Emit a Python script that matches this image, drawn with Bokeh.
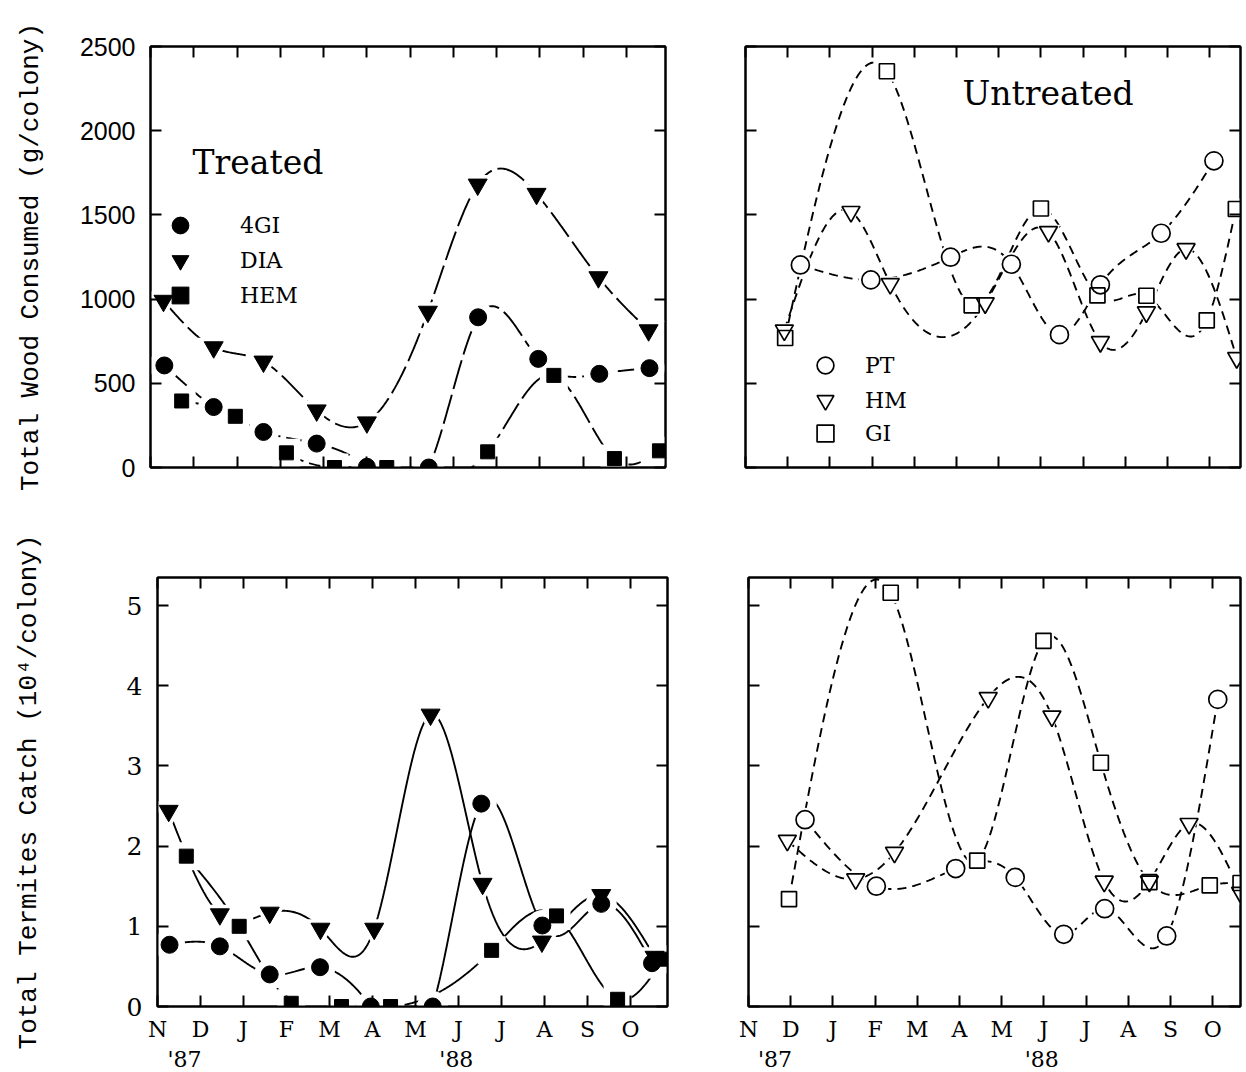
import numpy as np
from bokeh.plotting import figure
from bokeh.models import Range1d, FixedTicker, LinearAxis, Legend, LegendItem, Label
from bokeh.layouts import column, row
from bokeh.embed import file_html
from bokeh.resources import INLINE

# ---------------- data (x = months after 1 Nov 1987) ----------------
months = ["N", "D", "J", "F", "M", "A", "M", "J", "J", "A", "S", "O"]
month_pos = list(range(12))
years = ["'87", "'88"]
year_pos = [0.63, 6.95]
wood_ticks = [0, 500, 1000, 1500, 2000, 2500]
catch_ticks = [0, 1, 2, 3, 4, 5]

# Treated - total wood consumed (g/colony)
gi4_wood_x = [0.32, 1.46, 2.61, 3.84, 5.00, 6.43, 7.57, 8.96, 10.37, 11.53]
gi4_wood_y = [606, 359, 211, 142, 4, 0, 892, 645, 556, 590]
dia_wood_x = [0.30, 1.46, 2.61, 3.84, 5.00, 6.41, 7.56, 8.92, 10.35, 11.51]
dia_wood_y = [990, 714, 629, 339, 268, 925, 1680, 1625, 1130, 815]
hem_wood_x = [0.72, 1.96, 3.14, 4.25, 5.46, 7.79, 9.32, 10.72, 11.76]
hem_wood_y = [395, 304, 87, 0, 0, 93, 547, 53, 99]

# Untreated - total wood consumed (g/colony)
pt_wood_x = [1.30, 2.97, 4.86, 6.30, 7.44, 8.41, 9.85, 11.10]
pt_wood_y = [1203, 1114, 1249, 1207, 789, 1085, 1391, 1821]
hm_wood_x = [0.92, 2.50, 3.43, 5.68, 7.18, 8.41, 9.50, 10.44, 11.64]
hm_wood_y = [815, 1519, 1091, 976, 1400, 746, 923, 1298, 651]
gi_wood_x = [0.94, 3.35, 5.36, 7.00, 8.34, 9.50, 10.93, 11.62]
gi_wood_y = [769, 2353, 963, 1538, 1022, 1020, 874, 1535]

# Treated - total termites catch (10^4/colony)
gi4_catch_x = [0.28, 1.45, 2.61, 3.78, 4.96, 6.40, 7.53, 8.95, 10.32, 11.50]
gi4_catch_y = [0.77, 0.75, 0.40, 0.49, 0.0, 0.0, 2.53, 1.01, 1.28, 0.54]
dia_catch_x = [0.26, 1.45, 2.61, 3.79, 5.04, 6.35, 7.56, 8.94, 10.32, 11.56]
dia_catch_y = [2.44, 1.15, 1.17, 0.97, 0.97, 3.64, 1.53, 0.81, 1.39, 0.62]
hem_catch_x = [0.67, 1.90, 3.11, 4.28, 5.42, 7.77, 9.28, 10.70, 11.76]
hem_catch_y = [1.875, 1.0, 0.04, 0.0, 0.0, 0.70, 1.13, 0.09, 0.59]

# Untreated - total termites catch (10^4/colony)
pt_catch_x = [1.34, 3.03, 4.91, 6.32, 7.47, 8.44, 9.91, 11.12]
pt_catch_y = [2.33, 1.50, 1.72, 1.61, 0.90, 1.22, 0.88, 3.83]
hm_catch_x = [0.92, 2.54, 3.46, 5.68, 7.19, 8.43, 9.50, 10.44, 11.66]
hm_catch_y = [2.07, 1.59, 1.92, 3.85, 3.62, 1.56, 1.56, 2.28, 1.42]
gi_catch_x = [0.96, 3.37, 5.42, 6.99, 8.35, 9.50, 10.93, 11.66]
gi_catch_y = [1.34, 5.16, 1.82, 4.56, 3.04, 1.55, 1.51, 1.54]

MONO = "Liberation Mono"
SANS = "Liberation Sans"
SERIF = "DejaVu Serif"


def spline(xs, ys, n=500):
    """Natural cubic spline through the points (smooth connecting curve)."""
    x = np.asarray(xs, float)
    y = np.asarray(ys, float)
    m = len(x)
    h = np.diff(x)
    A = np.zeros((m, m))
    b = np.zeros(m)
    A[0, 0] = 1
    A[-1, -1] = 1
    for i in range(1, m - 1):
        A[i, i - 1] = h[i - 1]
        A[i, i] = 2 * (h[i - 1] + h[i])
        A[i, i + 1] = h[i]
        b[i] = 6 * ((y[i + 1] - y[i]) / h[i] - (y[i] - y[i - 1]) / h[i - 1])
    M = np.linalg.solve(A, b)
    xx = np.linspace(x[0], x[-1], n)
    idx = np.clip(np.searchsorted(x, xx) - 1, 0, m - 2)
    x0 = x[idx]
    x1 = x[idx + 1]
    hh = x1 - x0
    t0 = x1 - xx
    t1 = xx - x0
    yy = (M[idx] * t0 ** 3 + M[idx + 1] * t1 ** 3) / (6 * hh) \
        + (y[idx] / hh - M[idx] * hh / 6) * t0 \
        + (y[idx + 1] / hh - M[idx + 1] * hh / 6) * t1
    return xx, yy


def base_axis(ax):
    ax.axis_line_width = 2
    ax.axis_line_color = "black"
    ax.major_tick_in = 11
    ax.major_tick_out = 0
    ax.major_tick_line_width = 2
    ax.major_tick_line_color = "black"
    ax.minor_tick_in = 11
    ax.minor_tick_out = 0
    ax.minor_tick_line_width = 2
    ax.minor_tick_line_color = "black"
    ax.major_label_text_color = "black"


def tick_only_axis(ticks):
    # ticks drawn as (long) minor ticks, so that no tick labels exist
    ax = LinearAxis(ticker=FixedTicker(ticks=[], minor_ticks=ticks))
    base_axis(ax)
    ax.major_label_standoff = 0
    return ax


def make_panel(fw, fh, x_end, y_end, yticks, show_y, ylabel, ylab_font, ylab_standoff,
               show_x, mbl, mbr, mbt, mbb):
    p = figure(frame_width=fw, frame_height=fh,
               x_range=Range1d(0, x_end), y_range=Range1d(0, y_end),
               x_axis_type=None, y_axis_type=None,
               output_backend="svg", toolbar_location=None,
               min_border_left=mbl, min_border_right=mbr,
               min_border_top=mbt, min_border_bottom=mbb)
    p.outline_line_color = "black"
    p.outline_line_width = 2
    p.outline_line_alpha = 1
    p.background_fill_color = "white"
    p.border_fill_color = "white"

    if show_x:
        xb = LinearAxis(ticker=FixedTicker(ticks=month_pos))
        base_axis(xb)
        xb.major_label_overrides = {i: months[i] for i in month_pos}
        xb.major_label_text_font = SERIF
        xb.major_label_text_font_size = "22px"
        xb.major_label_standoff = 10
        p.add_layout(xb, "below")
        xy = LinearAxis(ticker=FixedTicker(ticks=year_pos))
        xy.major_label_overrides = {year_pos[i]: years[i] for i in range(len(years))}
        xy.axis_line_color = None
        xy.major_tick_line_color = None
        xy.minor_tick_line_color = None
        xy.major_label_text_font = SERIF
        xy.major_label_text_font_size = "22px"
        xy.major_label_text_color = "black"
        xy.major_label_standoff = -4
        p.add_layout(xy, "below")
    else:
        p.add_layout(tick_only_axis(month_pos), "below")
    p.add_layout(tick_only_axis(month_pos), "above")

    if show_y:
        yl = LinearAxis(ticker=FixedTicker(ticks=yticks))
        base_axis(yl)
        yl.major_label_text_font = ylab_font
        yl.major_label_text_font_size = "25px"
        yl.major_label_standoff = 15
        yl.axis_label = ylabel
        yl.axis_label_text_font = MONO
        yl.axis_label_text_font_size = "26px"
        yl.axis_label_text_font_style = "normal"
        yl.axis_label_text_color = "black"
        yl.axis_label_standoff = ylab_standoff
        p.add_layout(yl, "left")
    else:
        p.add_layout(tick_only_axis(yticks), "left")
    p.add_layout(tick_only_axis(yticks), "right")
    return p


def add_series(p, series, filled, dash, halo_extra):
    for (xs, ys, marker, size, name) in series:
        sx, sy = spline(xs, ys)
        p.line(sx, sy, line_color="black", line_width=1.9, line_dash=dash)
    for (xs, ys, marker, size, name) in series:
        p.scatter(xs, ys, marker=marker, size=size + halo_extra,
                  fill_color="white", line_color="white", line_width=0)
    rends = []
    for (xs, ys, marker, size, name) in series:
        if filled:
            r = p.scatter(xs, ys, marker=marker, size=size,
                          fill_color="black", line_color="black", line_width=1)
        else:
            r = p.scatter(xs, ys, marker=marker, size=size,
                          fill_color=None, line_color="black", line_width=1.7)
        rends.append((name, r))
    return rends


def add_legend(p, rends, x, ys, standoff):
    # one legend per entry so that key marker size and row spacing can be set freely
    for (name, r), y in zip(rends, ys):
        leg = Legend(items=[LegendItem(label=name, renderers=[r])], location=(x, y),
                     glyph_width=42, glyph_height=42, padding=0, margin=0, spacing=0,
                     label_standoff=standoff, label_text_font=SERIF,
                     label_text_font_size="22px", label_text_color="black",
                     border_line_color=None, background_fill_alpha=0)
        p.add_layout(leg)


# ---------------- layout geometry ----------------
TLFW, BLFW, TRFW, BRFW = 515, 510, 495, 492
TL_XEND = 11.9
BL_XEND = BLFW / 43.0
TR_XEND = TRFW / 42.2
BR_XEND = BRFW / 42.2
TFH, BFH = 421, 429

tl = make_panel(TLFW, TFH, TL_XEND, 2500, wood_ticks, True,
                "Total Wood Consumed (g/colony)", SANS, 31, False, 150, 14, 46, 30)
tr = make_panel(TRFW, TFH, TR_XEND, 2500, wood_ticks, False, None, None, 0,
                False, 66, 4, 46, 30)
bl = make_panel(BLFW, BFH, BL_XEND, 5.35, catch_ticks, True,
                "Total Termites Catch (10\u2074/colony)", SERIF, 80, True, 157, 12, 80, 62)
br = make_panel(BRFW, BFH, BR_XEND, 5.35, catch_ticks, False, None, None, 0,
                True, 69, 4, 80, 62)

treated_wood = [
    (gi4_wood_x, gi4_wood_y, "circle", 17, "4GI"),
    (dia_wood_x, dia_wood_y, "inverted_triangle", 19, "DIA"),
    (hem_wood_x, hem_wood_y, "square", 14, "HEM"),
]
untreated_wood = [
    (pt_wood_x, pt_wood_y, "circle", 18, "PT"),
    (hm_wood_x, hm_wood_y, "inverted_triangle", 18, "HM"),
    (gi_wood_x, gi_wood_y, "square", 15, "GI"),
]
treated_catch = [
    (gi4_catch_x, gi4_catch_y, "circle", 17, "4GI"),
    (dia_catch_x, dia_catch_y, "inverted_triangle", 19, "DIA"),
    (hem_catch_x, hem_catch_y, "square", 14, "HEM"),
]
untreated_catch = [
    (pt_catch_x, pt_catch_y, "circle", 18, "PT"),
    (hm_catch_x, hm_catch_y, "inverted_triangle", 18, "HM"),
    (gi_catch_x, gi_catch_y, "square", 15, "GI"),
]

r_tl = add_series(tl, treated_wood, True, "30 6", 14)
r_tr = add_series(tr, untreated_wood, False, "9 6", 6)
add_series(bl, treated_catch, True, "solid", 14)
add_series(br, untreated_catch, False, "9 6", 6)

add_legend(tl, r_tl, 9, [221, 186, 151], 39)
add_legend(tr, r_tr, 59, [81, 46, 13], 19)

tl.add_layout(Label(x=0.97, y=1811, text="Treated", text_font=SERIF,
                    text_font_size="33px", text_baseline="middle", text_align="left",
                    text_color="black"))
tr.add_layout(Label(x=5.14, y=2221, text="Untreated", text_font=SERIF,
                    text_font_size="33px", text_baseline="middle", text_align="left",
                    text_color="black"))

layout = column(row(tl, tr), row(bl, br))
open("out.html", "w").write(file_html(layout, INLINE))
